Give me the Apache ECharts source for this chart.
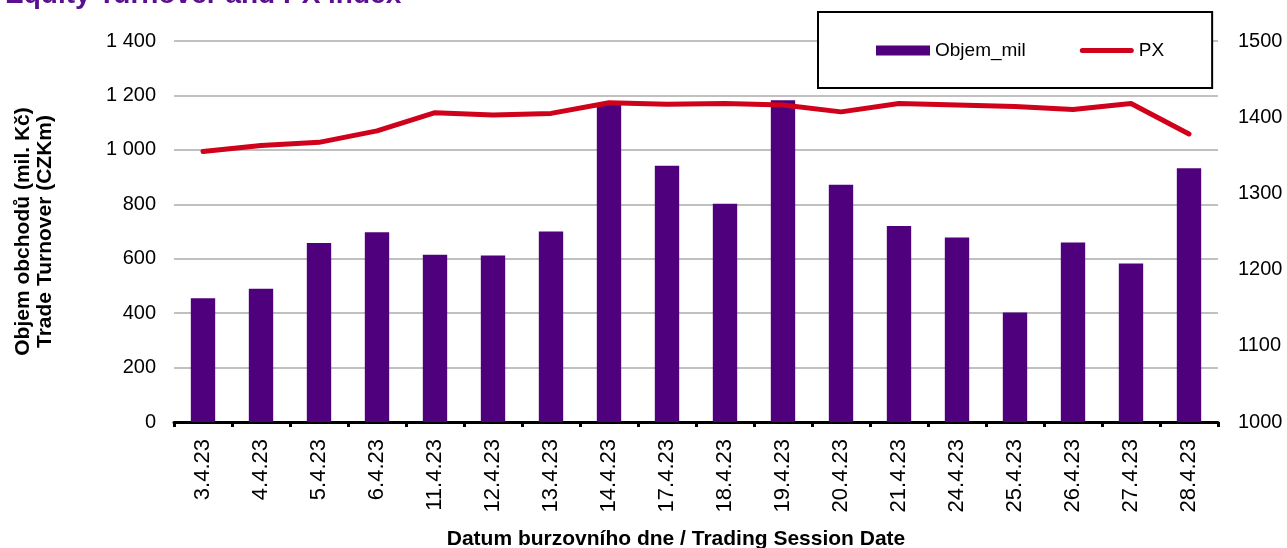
<!DOCTYPE html>
<html>
<head>
<meta charset="utf-8">
<script src="https://cdn.jsdelivr.net/npm/echarts@6/dist/echarts.min.js"></script>
<style>
  html, body { margin: 0; padding: 0; background: #fff; }
  #main { width: 1287px; height: 548px; }
</style>
</head>
<body>
<div id="main"></div>
<script>
// data
const dates = ['3.4.23', '4.4.23', '5.4.23', '6.4.23', '11.4.23', '12.4.23', '13.4.23', '14.4.23', '17.4.23',
  '18.4.23', '19.4.23', '20.4.23', '21.4.23', '24.4.23', '25.4.23', '26.4.23', '27.4.23', '28.4.23'];
const objemMil = [455, 490, 658, 697, 615, 612, 700, 1172, 942, 802, 1182, 872, 720, 678, 402, 660, 582, 932];
const px = [1355, 1363, 1367, 1382, 1406, 1403, 1405, 1419, 1417, 1418, 1416, 1407, 1418, 1416, 1414, 1410, 1418, 1378];
const leftTicks = { min: 0, max: 1400, interval: 200 };
const rightTicks = { min: 1000, max: 1500, interval: 100 };

const font = 'Arial, "Liberation Sans", sans-serif';
const chart = echarts.init(document.getElementById('main'));

// 1 400 style thousands
const fmtSpace = v => String(v).replace(/\B(?=(\d{3})+(?!\d))/g, ' ');

const option = {
  animation: false,
  backgroundColor: '#fff',
  textStyle: { fontFamily: font },
  title: {
    text: 'Equity Turnover and PX index',
    left: 0,
    top: -24,
    textStyle: { fontFamily: font, fontSize: 28, fontWeight: 'bold', color: '#5a0f8f' }
  },
  legend: {
    left: 818,
    top: 12,
    padding: [29, 48, 28, 58],
    itemGap: 54,
    itemWidth: 54,
    itemHeight: 10,
    backgroundColor: '#fff',
    borderColor: '#000',
    borderWidth: 2,
    textStyle: { fontFamily: font, fontSize: 19, color: '#000' },
    data: [
      { name: 'Objem_mil', icon: 'rect' },
      { name: 'PX', icon: 'path://M2.5,0 L51.5,0 A2.5,2.5,0,0,1,51.5,5 L2.5,5 A2.5,2.5,0,0,1,2.5,0 Z' }
    ]
  },
  grid: { left: 174, right: 69, top: 41, bottom: 126, outerBoundsMode: 'none' },
  xAxis: {
    type: 'category',
    data: dates,
    name: 'Datum burzovního dne / Trading Session Date',
    nameLocation: 'middle',
    nameGap: 107,
    nameTextStyle: { fontFamily: font, fontSize: 21, fontWeight: 'bold', color: '#000', padding: [0, 40, 0, 0] },
    axisLine: { lineStyle: { color: '#000', width: 3 } },
    axisTick: { show: true, interval: 0, length: 5, lineStyle: { color: '#000', width: 3 } },
    axisLabel: { interval: 0, rotate: 90, margin: 17, fontSize: 22, color: '#000', fontFamily: font }
  },
  yAxis: [
    {
      type: 'value',
      min: leftTicks.min,
      max: leftTicks.max,
      interval: leftTicks.interval,
      name: 'Objem obchodů (mil. Kč)\nTrade Turnover (CZKm)',
      nameLocation: 'middle',
      nameGap: 118,
      nameTextStyle: { fontFamily: font, fontSize: 21, fontWeight: 'bold', color: '#000', lineHeight: 22 },
      axisLine: { show: false },
      axisTick: { show: false },
      splitLine: { lineStyle: { color: '#c0c0c0', width: 2 } },
      axisLabel: { margin: 18, fontSize: 20, color: '#000', fontFamily: font, formatter: fmtSpace }
    },
    {
      type: 'value',
      min: rightTicks.min,
      max: rightTicks.max,
      interval: rightTicks.interval,
      axisLine: { show: false },
      axisTick: { show: false },
      splitLine: { show: false },
      axisLabel: { margin: 20, fontSize: 20, color: '#000', fontFamily: font, formatter: v => String(v) }
    }
  ],
  series: [
    {
      name: 'Objem_mil',
      type: 'bar',
      data: objemMil,
      barWidth: '42%',
      itemStyle: { color: '#4f007c' }
    },
    {
      name: 'PX',
      type: 'line',
      yAxisIndex: 1,
      data: px,
      symbol: 'none',
      lineStyle: { color: '#d0011b', width: 5, cap: 'round', join: 'round' },
      itemStyle: { color: '#d0011b' }
    }
  ]
};

chart.setOption(option);
window.addEventListener('resize', function () {
  chart.resize();
});
</script>
</body>
</html>
